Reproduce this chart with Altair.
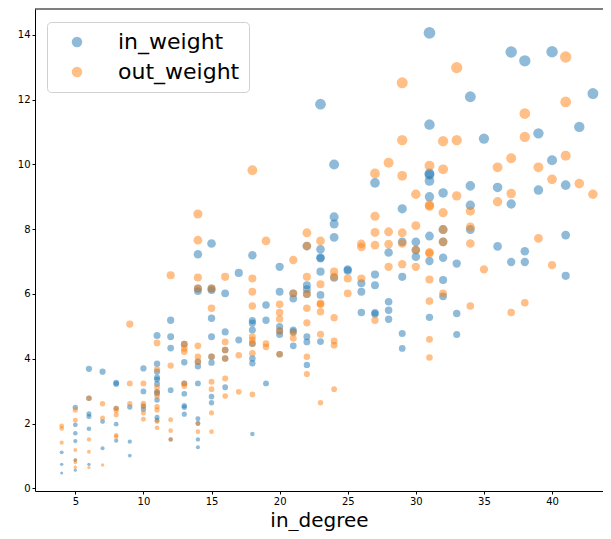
import altair as alt
import pandas as pd

# in_weight values grouped by in_degree
IN_WEIGHT = {
    4: [1.11, 0.74, 0.47],
    5: [2.50, 1.96, 1.70, 1.46, 0.87, 0.56],
    6: [3.69, 2.78, 2.30, 2.22, 1.84, 0.74],
    7: [3.60, 2.06, 1.24],
    8: [3.26, 3.22, 2.47, 1.98, 1.47],
    9: [2.51, 1.44, 1.01],
    10: [3.70, 2.99, 2.54, 2.44],
    11: [4.72, 3.85, 3.60, 3.42, 3.36, 3.22, 2.98, 2.93, 2.73, 2.19, 2.10],
    12: [5.19, 4.68, 4.33, 3.03, 1.51],
    13: [4.45, 3.89, 3.24, 2.92, 2.55, 2.50, 2.29],
    14: [7.23, 6.17, 6.09, 3.91, 3.77, 3.24, 2.15, 2.00, 1.51, 1.27],
    15: [7.56, 6.17, 6.12, 5.25, 4.68, 4.06, 3.88, 2.83, 2.64],
    16: [6.02, 4.83, 4.27, 4.01, 3.12],
    17: [6.65, 4.58],
    18: [7.20, 5.18, 5.10, 4.89, 4.47, 4.01, 3.86, 1.68],
    19: [5.66, 5.19, 3.24],
    20: [6.84, 6.07, 4.99, 4.86, 4.75, 4.14],
    21: [6.02, 5.86, 4.89, 4.83, 4.40],
    22: [7.48, 6.27, 6.15, 6.00, 4.68, 4.52, 3.81],
    23: [11.86, 7.38, 7.13, 7.10, 6.69, 5.97, 4.53],
    24: [10.00, 8.38, 8.16, 7.75, 6.50],
    25: [6.76, 6.72],
    26: [6.33, 6.07, 5.43],
    27: [9.43, 6.60, 6.27, 5.42, 5.38],
    28: [7.28, 5.76, 5.50, 5.22],
    29: [8.63, 7.61, 6.53, 4.78, 4.32],
    30: [7.61, 7.36, 7.15],
    31: [14.06, 11.23, 9.72, 9.68, 9.49, 9.00, 7.79, 7.02, 5.28],
    32: [9.12, 7.99, 7.61, 7.12, 6.43, 5.93],
    33: [6.94, 5.40, 4.75],
    34: [12.09, 9.34, 8.74, 7.99],
    35: [10.80],
    36: [9.29, 7.47],
    37: [13.47, 8.78, 6.99],
    38: [13.20, 7.32, 6.99],
    39: [10.96, 9.21],
    40: [13.48, 10.13],
    41: [9.36, 7.82, 6.56],
    42: [11.16],
    43: [12.19],
}

# out_weight values grouped by in_degree
OUT_WEIGHT = {
    4: [1.93, 1.85, 1.41],
    5: [2.42, 2.10, 1.18, 0.87, 0.80, 0.65],
    6: [2.78, 1.51, 1.13, 0.64],
    7: [2.61, 2.17, 0.72],
    8: [2.47, 2.40, 2.27, 1.64, 1.59],
    9: [5.07, 3.24, 2.61],
    10: [3.24, 2.62, 2.54, 2.33, 2.13],
    11: [4.49, 3.67, 3.12, 2.98, 2.85, 2.52, 2.42, 2.06, 1.87],
    12: [6.58, 3.79, 2.12, 1.78, 1.51],
    13: [4.45, 4.32, 4.22, 3.24, 3.16],
    14: [8.47, 7.66, 6.51, 6.17, 4.40, 4.06, 3.91, 2.00, 1.75],
    15: [6.17, 5.56, 4.06, 3.29, 3.06, 2.33, 1.75],
    16: [6.53, 4.52, 4.27, 4.01, 3.39, 2.85],
    17: [4.11, 2.98],
    18: [9.82, 6.48, 6.07, 5.63, 4.68, 4.58, 4.47, 4.17, 2.90],
    19: [7.64, 4.47, 4.37],
    20: [5.68, 5.43, 5.23, 4.86, 4.14],
    21: [7.05, 6.02, 4.80, 4.63],
    22: [7.89, 7.48, 6.53, 6.00, 5.56, 5.11, 4.06, 3.53],
    23: [7.64, 6.30, 5.71, 5.68, 5.45, 4.76, 2.64],
    24: [6.69, 6.53, 5.27, 4.55, 4.42, 3.06],
    25: [6.48, 6.02],
    26: [7.55, 7.45, 6.48],
    27: [9.72, 8.40, 7.90, 7.51, 5.19],
    28: [10.05, 7.92, 7.54, 6.84],
    29: [12.52, 10.75, 9.65, 7.89, 7.56, 6.92],
    30: [9.08, 8.11, 7.36, 6.84],
    31: [9.96, 8.75, 8.71, 7.29, 7.25, 6.45, 5.78, 4.60, 4.04],
    32: [10.72, 9.85, 8.51, 7.99, 7.61, 6.02],
    33: [12.99, 10.75, 9.03],
    34: [8.56, 8.07, 7.56, 5.63],
    35: [6.76],
    36: [9.91, 8.85],
    37: [10.19, 9.10, 5.43],
    38: [11.57, 10.85, 5.73],
    39: [9.91, 7.72],
    40: [9.54, 6.89],
    41: [13.32, 11.93, 10.27],
    42: [9.41],
    43: [9.08],
}

SERIES = ["in_weight", "out_weight"]
COLORS = ["#1f77b4", "#ff7f0e"]
X_TICKS = [5, 10, 15, 20, 25, 30, 35, 40]
Y_TICKS = [0, 2, 4, 6, 8, 10, 12, 14]

rows = []
for name, table in zip(SERIES, (IN_WEIGHT, OUT_WEIGHT)):
    for deg, vals in table.items():
        for v in vals:
            rows.append({"in_degree": deg, "weight": v, "series": name})
df = pd.DataFrame(rows)
df["order"] = range(len(df))

W, H = 568, 482

points = alt.Chart(df).mark_circle(opacity=0.5, clip=True).encode(
    x=alt.X("in_degree:Q",
            scale=alt.Scale(domain=[2.04, 43.74], nice=False, zero=False),
            axis=alt.Axis(values=X_TICKS, title="in_degree")),
    y=alt.Y("weight:Q",
            scale=alt.Scale(domain=[-0.083, 14.80], nice=False, zero=False),
            axis=alt.Axis(values=Y_TICKS, title=None)),
    color=alt.Color("series:N",
                    scale=alt.Scale(domain=SERIES, range=COLORS),
                    legend=alt.Legend(title=None, orient="none", legendX=12, legendY=13,
                                      padding=9, fillColor="white", strokeColor="#d0d0d0",
                                      cornerRadius=4, labelFontSize=22, labelFont="DejaVu Sans",
                                      labelColor="black", symbolSize=110, symbolOpacity=0.5,
                                      symbolStrokeWidth=0, symbolType="circle", rowPadding=8,
                                      symbolOffset=10, labelOffset=30)),
    size=alt.Size("weight:Q", scale=alt.Scale(domain=[0, 14.1], range=[4.7, 137], zero=False),
                  legend=None),
    order=alt.Order("order:Q"),
)

top = alt.Chart(pd.DataFrame({"a": [0]})).mark_rule(color="black", strokeWidth=1).encode(
    x=alt.value(0), x2=alt.value(W), y=alt.value(0)
)

chart = alt.layer(points, top).properties(
    width=W, height=H,
    autosize=alt.AutoSizeParams(type="none"),
    padding={"left": 27, "top": 1, "right": 0, "bottom": 40},
).configure_view(stroke=None).configure_axis(
    grid=False, domainColor="black", tickColor="black", tickSize=3, tickWidth=1,
    labelFont="DejaVu Sans", labelFontSize=10, labelColor="black", labelPadding=2,
    titleFont="DejaVu Sans", titleFontSize=20, titleFontWeight="normal", titleColor="black",
).configure_axisBottom(
    titleBaseline="alphabetic", titleY=35.5,
)

chart.save("out.html", embed_options={"renderer": "svg", "actions": False})
